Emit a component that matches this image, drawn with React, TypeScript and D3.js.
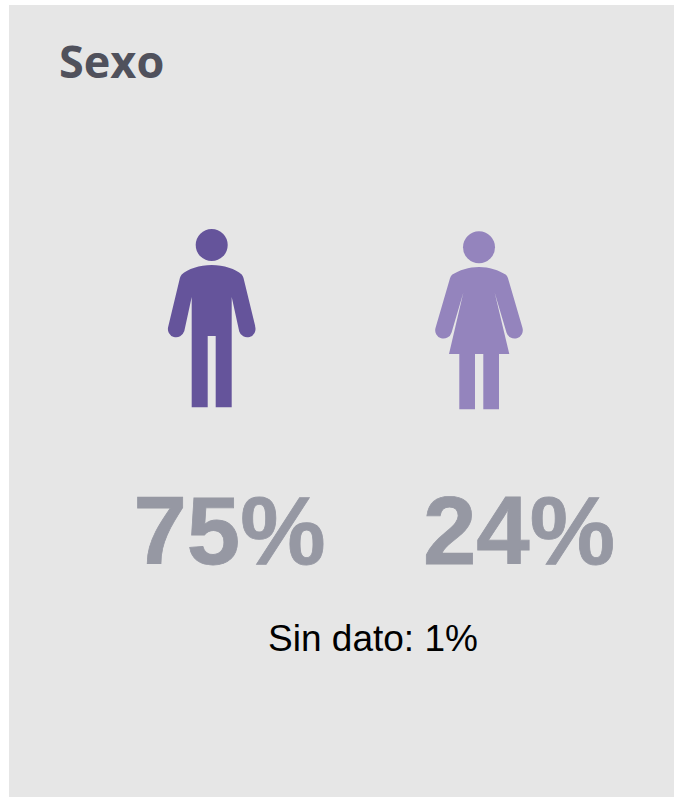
import React from "react";
import * as d3 from "d3";

const categories = ["Hombre", "Mujer"];
const percentValues = [75, 24];
const missingValue = 1;
const titleText = "Sexo";
const missingLabel = "Sin dato";
const colors = ["#65549b", "#9484bd"];

const W = 674;
const H = 797;
const xPos = d3.scalePoint<string>().domain(categories).range([229.5, 519]);
const iconX = d3.scalePoint<string>().domain(categories).range([211.7, 479]);
const iconY = d3.scalePoint<string>().domain(categories).range([245, 247.3]);
const fmt = (v: number) => `${v}%`;

function manPath() {
  const p = d3.path();
  p.moveTo(0, 20);
  p.bezierCurveTo(12, 20, 24, 24, 30, 29.5);
  p.quadraticCurveTo(31.3, 31, 31.8, 33);
  p.lineTo(43.5, 81);
  p.arc(35.5, 84, 8.3, -0.3, 2.85, false);
  p.lineTo(20, 52);
  p.lineTo(20, 162.3);
  p.lineTo(4, 162.3);
  p.lineTo(4, 91);
  p.lineTo(-4, 91);
  p.lineTo(-4, 162.3);
  p.lineTo(-20, 162.3);
  p.lineTo(-20, 52);
  p.lineTo(-27.5, 86.5);
  p.arc(-35.5, 84, 8.3, 0.29, 3.44, false);
  p.lineTo(-31.8, 33);
  p.quadraticCurveTo(-31.3, 31, -30, 29.5);
  p.bezierCurveTo(-24, 24, -12, 20, 0, 20);
  p.closePath();
  return p.toString();
}

function womanPath() {
  const p = d3.path();
  p.moveTo(0, 19.7);
  p.bezierCurveTo(10, 19.7, 20, 23, 27, 27.5);
  p.quadraticCurveTo(28.5, 29, 29, 31);
  p.lineTo(43.6, 81);
  p.arc(35.5, 83, 8.3, -0.3, 2.85, false);
  p.lineTo(15.7, 45.5);
  p.lineTo(30.3, 106.7);
  p.lineTo(20, 106.7);
  p.lineTo(20, 162);
  p.lineTo(4.3, 162);
  p.lineTo(4.3, 106.7);
  p.lineTo(-4, 106.7);
  p.lineTo(-4, 162);
  p.lineTo(-19.7, 162);
  p.lineTo(-19.7, 106.7);
  p.lineTo(-30, 106.7);
  p.lineTo(-15.7, 45.5);
  p.lineTo(-27.5, 85.5);
  p.arc(-35.5, 83, 8.3, 0.29, 3.44, false);
  p.lineTo(-29, 31);
  p.quadraticCurveTo(-28.5, 29, -27, 27.5);
  p.bezierCurveTo(-20, 23, -10, 19.7, 0, 19.7);
  p.closePath();
  return p.toString();
}

const bodies = [manPath(), womanPath()];

export default function App() {
  return (
    <svg
      width={W}
      height={H}
      viewBox={`0 0 ${W} ${H}`}
      style={{ position: "absolute", left: 0, top: 0, display: "block" }}
    >
      <rect x={0} y={0} width={W} height={H} fill="#ffffff" />
      <rect x={9} y={5} width={665} height={792} fill="#e6e6e6" />
      <text
        x={59}
        y={78}
        fontFamily="'Open Sans', sans-serif"
        fontWeight={700}
        fontSize={45}
        fill="#50515c"
      >
        {titleText}
      </text>
      {categories.map((c, i) => (
        <g key={c} transform={`translate(${iconX(c)},${iconY(c)})`} fill={colors[i]}>
          <circle cx={0} cy={0} r={16} />
          <path d={bodies[i]} />
        </g>
      ))}
      {categories.map((c, i) => (
        <text
          key={c}
          x={xPos(c)}
          y={564}
          textAnchor="middle"
          fontFamily="'Liberation Sans', Arial, sans-serif"
          fontWeight={700}
          fontSize={96}
          fill="#9698a3"
          stroke="#9698a3"
          strokeWidth={0.8}
        >
          {fmt(percentValues[i])}
        </text>
      ))}
      <text
        x={373}
        y={651}
        textAnchor="middle"
        fontFamily="'Liberation Sans', Arial, sans-serif"
        fontSize={37}
        fill="#000000"
      >
        {`${missingLabel}: ${fmt(missingValue)}`}
      </text>
    </svg>
  );
}
